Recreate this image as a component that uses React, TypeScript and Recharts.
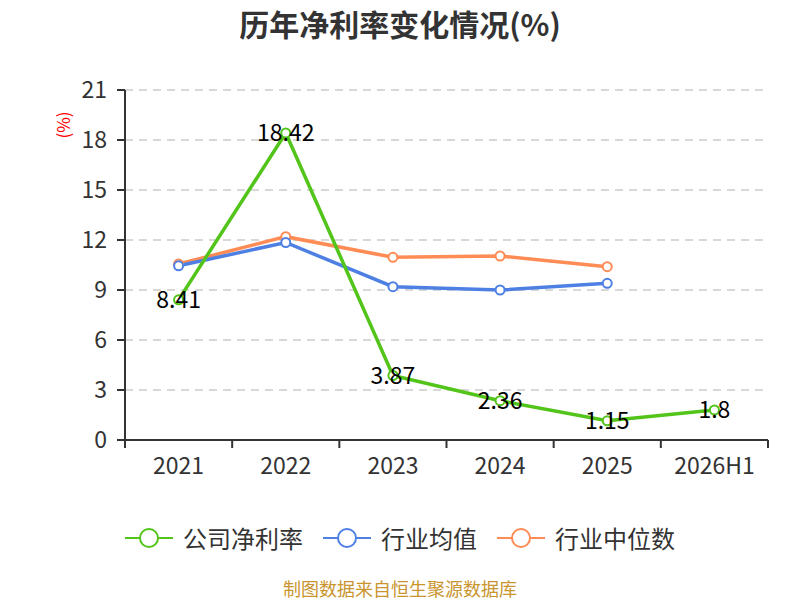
import React from "react";
import { CartesianGrid, LabelList, Line, LineChart, XAxis, YAxis } from "recharts";

const years = ["2021", "2022", "2023", "2024", "2025", "2026H1"];
const companyMargin = [8.41, 18.42, 3.87, 2.36, 1.15, 1.8];
const industryMean = [10.45, 11.85, 9.2, 9.0, 9.4, null];
const industryMedian = [10.56, 12.2, 10.96, 11.04, 10.4, null];
const yTicks = [0, 3, 6, 9, 12, 15, 18, 21];

const SERIES = [
  { key: "company", name: "公司净利率", color: "#52c41a" },
  { key: "mean", name: "行业均值", color: "#4e80e4" },
  { key: "median", name: "行业中位数", color: "#ff8c55" },
];

const FONT = '"Noto Sans CJK SC", "Noto Sans", sans-serif';

const data = years.map((year, i) => ({
  year,
  company: companyMargin[i],
  mean: industryMean[i],
  median: industryMedian[i],
}));

function XTick(props: any) {
  const { x, y, payload, index, visibleTicksCount } = props;
  const half = payload?.offset ?? 0;
  const last = index === (visibleTicksCount ?? years.length) - 1;
  return (
    <g>
      <line x1={x - half} y1={y} x2={x - half} y2={y + 8} stroke="#333" strokeWidth={2} />
      {last ? <line x1={x + half} y1={y} x2={x + half} y2={y + 8} stroke="#333" strokeWidth={2} /> : null}
      <text x={x} y={y + 34} textAnchor="middle" fill="#333" fontSize={23} fontFamily={FONT}>
        {payload.value}
      </text>
    </g>
  );
}

function ValueLabel(props: any) {
  const { x, y, value } = props;
  if (value == null) return null;
  return (
    <text x={x} y={y - 2} textAnchor="middle" dominantBaseline="central" fill="#000" fontSize={23} fontFamily={FONT}>
      {value}
    </text>
  );
}

export default function App() {
  return (
    <div style={{ position: "absolute", left: 0, top: 0, width: 800, height: 600, background: "#fff", fontFamily: FONT }}>
      <div style={{ position: "absolute", top: 1, width: 800, textAlign: "center", fontSize: 30, fontWeight: "bold", color: "#333" }}>
        历年净利率变化情况(%)
      </div>
      <div
        style={{
          position: "absolute",
          left: 62,
          top: 125,
          transform: "translate(-50%, -50%) rotate(-90deg)",
          color: "#f00",
          fontSize: 17,
          whiteSpace: "nowrap",
        }}
      >
        (%)
      </div>

      <LineChart width={800} height={600} data={data} margin={{ top: 90, right: 32, bottom: 0, left: 0 }}>
        <CartesianGrid vertical={false} stroke="#ccc" strokeDasharray="8 6" strokeWidth={1.5} />
        <XAxis
          dataKey="year"
          scale="band"
          height={160}
          axisLine={{ stroke: "#333", strokeWidth: 2 }}
          tickLine={false}
          tickSize={0}
          tickMargin={0}
          tick={<XTick />}
          interval={0}
        />
        <YAxis
          width={125}
          domain={[0, 21]}
          ticks={yTicks}
          interval={0}
          axisLine={{ stroke: "#333", strokeWidth: 2 }}
          tickLine={{ stroke: "#333", strokeWidth: 2 }}
          tickSize={8}
          tickMargin={10}
          tick={{ fill: "#333", fontSize: 23, fontFamily: FONT }}
        />
        <Line
          dataKey="median"
          name="行业中位数"
          stroke={SERIES[2].color}
          strokeWidth={3.5}
          dot={{ r: 4.5, fill: "#fff", stroke: SERIES[2].color, strokeWidth: 2 }}
          isAnimationActive={false}
        />
        <Line
          dataKey="mean"
          name="行业均值"
          stroke={SERIES[1].color}
          strokeWidth={3.5}
          dot={{ r: 4.5, fill: "#fff", stroke: SERIES[1].color, strokeWidth: 2 }}
          isAnimationActive={false}
        />
        <Line
          dataKey="company"
          name="公司净利率"
          stroke={SERIES[0].color}
          strokeWidth={3.5}
          dot={{ r: 4.5, fill: "#fff", stroke: SERIES[0].color, strokeWidth: 2 }}
          isAnimationActive={false}
        >
          <LabelList dataKey="company" content={<ValueLabel />} />
        </Line>
      </LineChart>

      <div
        style={{
          position: "absolute",
          top: 520,
          left: 0,
          width: 800,
          display: "flex",
          justifyContent: "center",
          gap: 20,
          fontSize: 24,
          color: "#333",
        }}
      >
        {SERIES.map((s) => (
          <div key={s.key} style={{ display: "flex", alignItems: "center", gap: 10 }}>
            <svg width={48} height={24}>
              <line x1={0} y1={12} x2={48} y2={12} stroke={s.color} strokeWidth={2} />
              <circle cx={24} cy={12} r={9} fill="#fff" stroke={s.color} strokeWidth={2} />
            </svg>
            <span>{s.name}</span>
          </div>
        ))}
      </div>

      <div
        style={{
          position: "absolute",
          top: 578,
          width: 800,
          textAlign: "center",
          fontSize: 18,
          lineHeight: "20px",
          color: "#c9952e",
        }}
      >
        制图数据来自恒生聚源数据库
      </div>
    </div>
  );
}
